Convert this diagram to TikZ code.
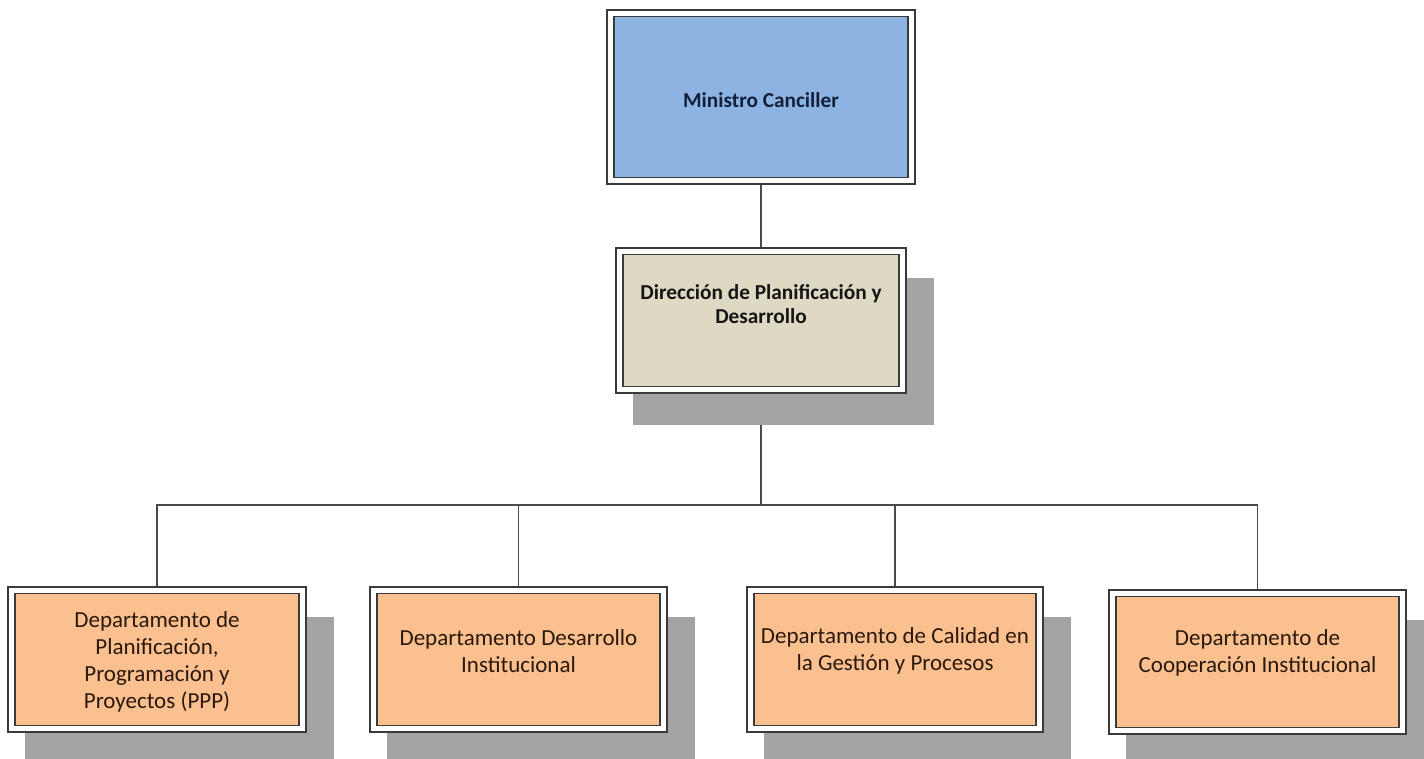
\documentclass[tikz,border=0pt]{standalone}
\usepackage{fontspec}
\setmainfont{Carlito}
\pgfdeclarelayer{wires}
\pgfdeclarelayer{shade}
\pgfsetlayers{wires,shade,main}
\definecolor{blueFill}{HTML}{8DB3E2}
\definecolor{tanFill}{HTML}{DDD9C3}
\definecolor{peachFill}{HTML}{FAC090}
\definecolor{shadeGray}{HTML}{A4A4A4}
\definecolor{edgeInk}{HTML}{3A3A3A}
\definecolor{wireInk}{HTML}{4A4A4A}
\definecolor{navyInk}{HTML}{14203A}
\definecolor{darkInk}{HTML}{151515}
\definecolor{brownInk}{HTML}{2B180C}

\tikzset{
  frame/.style={draw=edgeInk, line width=1.4pt, fill=white, rectangle, inner sep=0pt},
  panel/.style={draw=edgeInk, line width=1.6pt, rectangle, inner sep=0pt},
  wire/.style={draw=wireInk, line width=1.4pt},
  boldlabel/.style={font=\fontsize{21.3}{23.5}\selectfont\bfseries, align=center},
  deptlabel/.style={font=\fontsize{23}{27}\selectfont, align=center, text=brownInk},
}

% #1 name, #2 x, #3 y, #4 width, #5 height, #6 fill, #7 shadow (1/0)
\newcommand\orgbox[7]{%
  \node[frame, minimum width=#4pt, minimum height=#5pt] (#1) at (#2,#3) {};
  \node[panel, fill=#6, minimum width=#4pt-14pt, minimum height=#5pt-13pt] (#1in) at (#2,#3) {};
  \ifnum#7=1
    \begin{pgfonlayer}{shade}
      \fill[shadeGray] ([shift={(18,31)}]#1.north west) rectangle ([shift={(27,31)}]#1.south east);
    \end{pgfonlayer}
  \fi
}

\begin{document}
\begin{tikzpicture}[x=1pt, y=-1pt]
  \useasboundingbox (0,0) rectangle (1424,758);
  \clip (0,0) rectangle (1424,758);

  % boxes
  \orgbox{top}{761}{97}{308}{174}{blueFill}{0}
  \orgbox{mid}{761}{320.5}{290}{145}{tanFill}{1}
  \orgbox{d1}{157}{659.5}{298}{145}{peachFill}{1}
  \orgbox{d2}{518.5}{659.5}{297}{145}{peachFill}{1}
  \orgbox{d3}{895}{659.5}{296}{145}{peachFill}{1}
  \orgbox{d4}{1257.5}{662}{297}{144}{peachFill}{1}

  % labels
  \node[boldlabel, text=navyInk] (ttop) at (761,100) {Ministro Canciller};
  \node[boldlabel, text=darkInk] (tmid) at (761,304) {Dirección de Planificación y\\Desarrollo};
  \node[deptlabel] (td1) at (157,662) {Departamento de\\Planificación,\\Programación y\\Proyectos (PPP)};
  \node[deptlabel] (td2) at (518.5,651) {Departamento Desarrollo\\Institucional};
  \node[deptlabel] (td3) at (895,651) {Departamento de Calidad en\\la Gestión y Procesos};
  \node[deptlabel] (td4) at (1257.5,653) {Departamento de\\Cooperación Institucional};

  % connectors
  \coordinate (bus) at (761,505);
  \begin{pgfonlayer}{wires}
    \draw[wire] (top.south) -- (mid.north);
    \draw[wire] (mid.south) -- (bus);
    \draw[wire] (d1.north) |- (bus) -| (d4.north);
    \draw[wire] (d2.north) -- (d2.north |- bus);
    \draw[wire] (d3.north) -- (d3.north |- bus);
  \end{pgfonlayer}
\end{tikzpicture}
\end{document}
